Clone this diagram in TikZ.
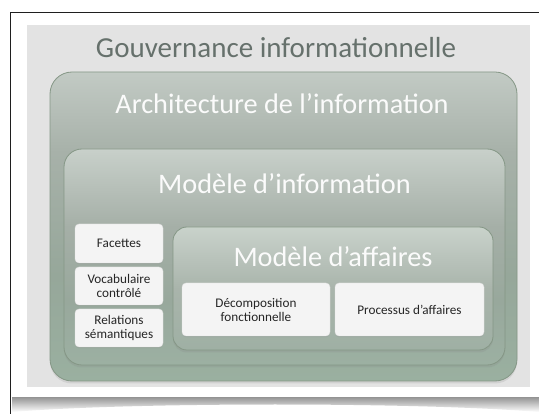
\documentclass[tikz,border=0pt]{standalone}
\usepackage{fontspec}
\setmainfont{Carlito}
\usetikzlibrary{shadows}
\definecolor{panel}{HTML}{E3E3E3}
\definecolor{gouvtxt}{HTML}{66716C}
\definecolor{boxline}{HTML}{859786}
\definecolor{whitebox}{HTML}{F4F4F4}
\definecolor{smalltxt}{HTML}{262626}
\definecolor{aA}{HTML}{C2CAC4}\definecolor{aB}{HTML}{A7B1A9}\definecolor{aC}{HTML}{96A79A}\definecolor{aD}{HTML}{9AB0A0}
\definecolor{iA}{HTML}{C8D0CA}\definecolor{iB}{HTML}{A5AFA7}\definecolor{iC}{HTML}{98A89C}\definecolor{iD}{HTML}{9CB0A2}
\definecolor{fA}{HTML}{C9D2CB}\definecolor{fB}{HTML}{A9B4AB}\definecolor{fC}{HTML}{9FB0A4}
\pgfdeclareverticalshading{archsh}{100bp}{color(0bp)=(aD); color(25bp)=(aD); color(42bp)=(aC); color(62bp)=(aB); color(75bp)=(aA); color(100bp)=(aA)}
\pgfdeclareverticalshading{infosh}{100bp}{color(0bp)=(iD); color(25bp)=(iD); color(40bp)=(iC); color(57bp)=(iB); color(75bp)=(iA); color(100bp)=(iA)}
\pgfdeclareverticalshading{affsh}{100bp}{color(0bp)=(fC); color(25bp)=(fC); color(50bp)=(fB); color(75bp)=(fA); color(100bp)=(fA)}
\pgfdeclareverticalshading{framesh}{100bp}{color(0bp)=(white); color(25bp)=(white); color(75bp)=(black!45); color(100bp)=(black!45)}
\tikzset{
  greenbox/.style={draw=boxline, line width=0.8pt, inner sep=0pt, outer sep=0pt,
    drop shadow={shadow xshift=0pt, shadow yshift=-2.5pt, opacity=0.18}},
  smallbox/.style={fill=whitebox, draw=black!12, line width=0.4pt, rounded corners=4pt,
    inner sep=0pt, outer sep=0pt, align=center, text=smalltxt,
    font=\fontsize{13.2}{14}\selectfont,
    drop shadow={shadow xshift=0pt, shadow yshift=-1.2pt, opacity=0.2}},
  titletxt/.style={text=white!97!gray, inner sep=0pt, font=\fontsize{28.3}{30}\selectfont}
}
\begin{document}
\begin{tikzpicture}[x=1pt,y=-1pt]
\useasboundingbox (0,0) rectangle (539,414);
% white page and frame
\fill[white] (0,0) rectangle (539,414);
\shade[shading=framesh] (12,396) -- (539,396) -- (539,412) .. controls (420,402) and (130,402) .. (12,412) -- cycle;
\fill[white] (11,13) rectangle (539,397);
\draw[black!88, line width=1.6pt] (10.5,414) -- (10.5,12.5) -- (539,12.5);
% grey panel
\fill[panel] (27,25) rectangle (530,387);
\node[text=gouvtxt, inner sep=0pt, font=\fontsize{29}{31}\selectfont] (tGouv) at (276,48) {Gouvernance informationnelle};
% Architecture
\node[greenbox, shading=archsh, rounded corners=22pt, minimum width=467pt, minimum height=309pt] (arch) at (283.5,226.5) {};
\node[titletxt] (tArch) at (282,104) {Architecture de l’information};
% Modele d'information
\node[greenbox, shading=infosh, rounded corners=18pt, minimum width=441pt, minimum height=216pt] (info) at (284.5,257) {};
\node[titletxt] (tInfo) at (284.5,184) {Modèle d’information};
% left boxes
\node[smallbox, minimum width=88pt, minimum height=39pt] (fac) at (119,243.5) {Facettes};
\node[smallbox, minimum width=88pt, minimum height=38pt] (voc) at (119,286) {Vocabulaire\\contrôlé};
\node[smallbox, minimum width=88pt, minimum height=38pt] (rel) at (119,328) {Relations\\sémantiques};
% Modele d'affaires
\node[greenbox, shading=affsh, rounded corners=14pt, minimum width=320pt, minimum height=123pt] (aff) at (333,288.5) {};
\node[titletxt] (tAff) at (333,257) {Modèle d’affaires};
\node[smallbox, minimum width=148pt, minimum height=53pt] (dec) at (256,309.5) {Décomposition\\fonctionnelle};
\node[smallbox, minimum width=149pt, minimum height=53pt] (proc) at (409.5,309.5) {Processus d'affaires};
\end{tikzpicture}
\end{document}
